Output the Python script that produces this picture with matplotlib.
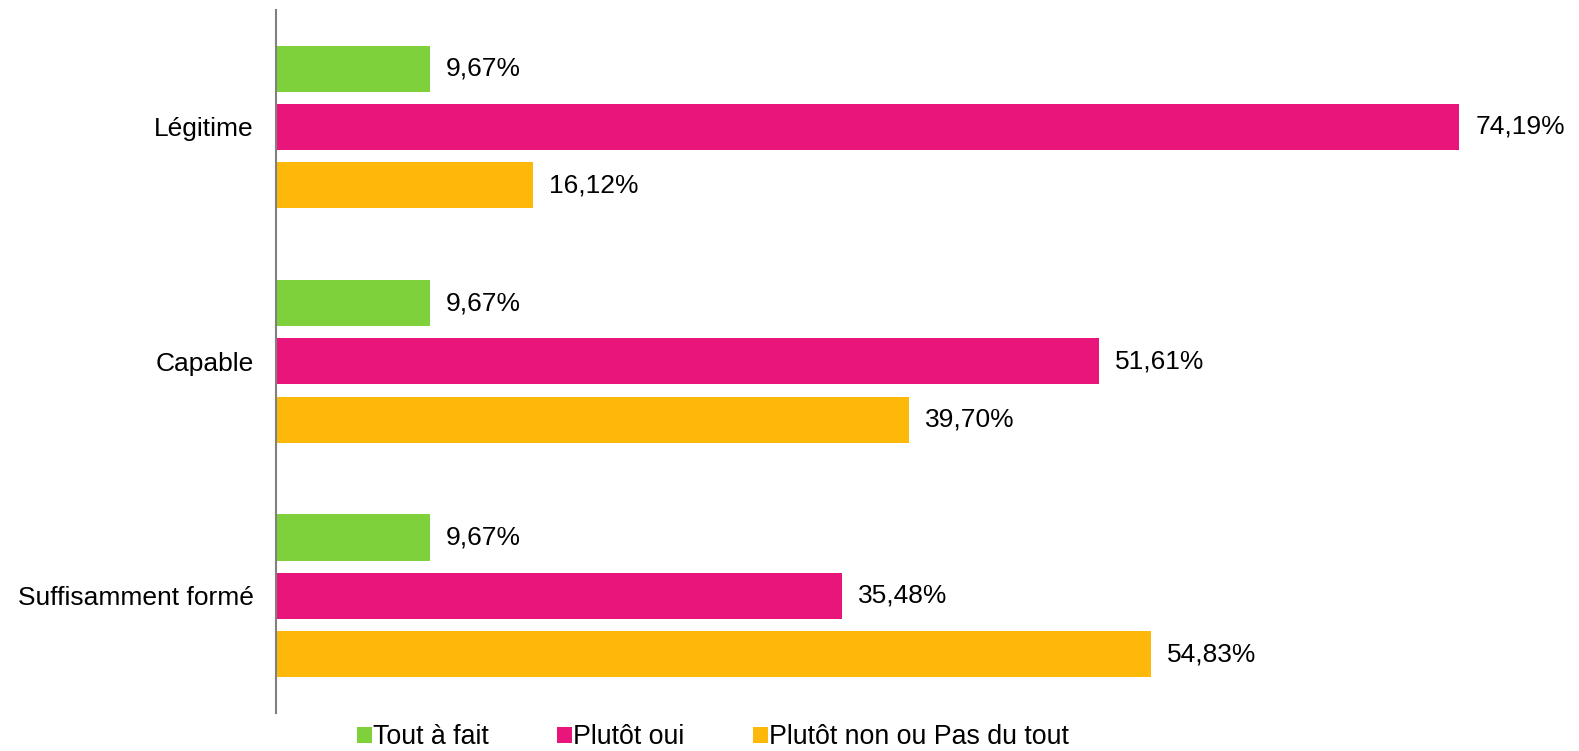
import numpy as np
import matplotlib.pyplot as plt
from matplotlib.patches import Patch

plt.rcParams['font.family'] = ['Liberation Sans', 'DejaVu Sans']

# Data
categories = ["Légitime", "Capable", "Suffisamment formé"]
series_names = ["Tout à fait", "Plutôt oui", "Plutôt non ou Pas du tout"]
tout_a_fait = [9.67, 9.67, 9.67]
plutot_oui = [74.19, 51.61, 35.48]
plutot_non = [16.12, 39.70, 54.83]
colors = ["#7FD13B", "#EA157A", "#FEB80A"]

series = [tout_a_fait, plutot_oui, plutot_non]

fig = plt.figure(figsize=(15.79, 7.51), dpi=100)
ax = fig.add_axes([0.1748, 0.0506, 0.8082, 0.9364])

y = np.arange(len(categories))
pitch = 0.249
bar_h = 0.197
offsets = [-pitch, 0, pitch]

for vals, off, col in zip(series, offsets, colors):
    bars = ax.barh(y + off, vals, height=bar_h, color=col)
    for rect, v in zip(bars, vals):
        ax.text(rect.get_width() + 1.0, rect.get_y() + rect.get_height() / 2,
                f"{v:.2f}%".replace(".", ","), va="center", ha="left",
                fontsize=19, color="#000000")

ax.set_xlim(0, 80)
ax.set_ylim(2.5, -0.5)
ax.set_yticks(y)
ax.set_yticklabels(categories, fontsize=19)
ax.tick_params(axis="y", length=0, pad=16)
ax.set_xticks([])
for s in ["top", "right", "bottom"]:
    ax.spines[s].set_visible(False)
ax.spines["left"].set_color("#808080")
ax.spines["left"].set_linewidth(1.5)

handles = [Patch(facecolor=c, edgecolor="none") for c in colors]
fig.legend(handles, series_names, loc="center", ncol=3,
           bbox_to_anchor=(0.4515, 0.018), frameon=False, fontsize=19.3,
           handlelength=0.55, handleheight=0.55, handletextpad=0.05,
           columnspacing=2.55, borderpad=0)

fig.savefig("out.png", dpi=100)
